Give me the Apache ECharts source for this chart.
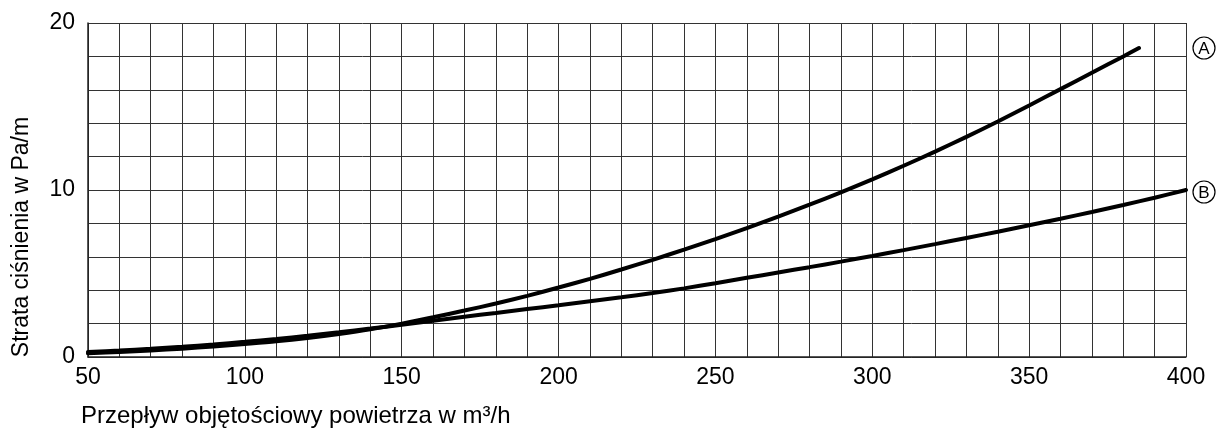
<!DOCTYPE html>
<html>
<head>
<meta charset="utf-8">
<script src="https://cdn.jsdelivr.net/npm/echarts@6/dist/echarts.min.js"></script>
<style>
html,body{margin:0;padding:0;background:#fff;}
#chart{width:1219px;height:430px;}
</style>
</head>
<body>
<div id="chart"></div>
<script>
const xAxisTitle = 'Przepływ objętościowy powietrza w m³/h';
const yAxisTitle = 'Strata ciśnienia w Pa/m';
const curveLabels = ['A', 'B'];

const flowA = [50, 60, 70, 80, 90, 100, 110, 120, 130, 140, 150, 160, 170, 180, 190, 200, 210, 220, 230, 240, 250, 260, 270, 280, 290, 300, 310, 320, 330, 340, 350, 360, 370, 380, 385];
const lossA = [0.22, 0.3, 0.39, 0.5, 0.63, 0.78, 0.94, 1.14, 1.38, 1.66, 2.0, 2.38, 2.78, 3.2, 3.66, 4.16, 4.68, 5.24, 5.82, 6.43, 7.06, 7.72, 8.41, 9.12, 9.86, 10.64, 11.45, 12.3, 13.18, 14.1, 15.06, 16.04, 17.02, 18.0, 18.5];

const flowB = [50, 60, 70, 80, 90, 100, 110, 120, 130, 140, 150, 160, 170, 180, 190, 200, 210, 220, 230, 240, 250, 260, 270, 280, 290, 300, 310, 320, 330, 340, 350, 360, 370, 380, 390, 400];
const lossB = [0.3, 0.39, 0.49, 0.61, 0.75, 0.91, 1.08, 1.27, 1.48, 1.7, 1.93, 2.17, 2.41, 2.64, 2.87, 3.1, 3.34, 3.58, 3.83, 4.11, 4.42, 4.74, 5.06, 5.38, 5.71, 6.05, 6.4, 6.76, 7.13, 7.5, 7.89, 8.28, 8.68, 9.1, 9.54, 10.0];

const pairs = (xs, ys) => xs.map((x, i) => [x, ys[i]]);

const chart = echarts.init(document.getElementById('chart'), null, {renderer: 'canvas'});
const font = '"Liberation Sans", Arial, sans-serif';
const gridColor = '#333';

chart.setOption({
  animation: false,
  backgroundColor: '#fff',
  grid: {left: 88, right: 33, top: 23, bottom: 73, containLabel: false},
  xAxis: {
    type: 'value', min: 50, max: 400, interval: 10,
    axisLine: {show: true, lineStyle: {color: '#222', width: 1.5}},
    axisTick: {show: false},
    splitLine: {show: true, lineStyle: {color: gridColor, width: 1}},
    axisLabel: {
      color: '#000', fontFamily: font, fontSize: 23, margin: 9,
      formatter: v => (v % 50 === 0 ? String(v) : '')
    }
  },
  yAxis: {
    type: 'value', min: 0, max: 20, interval: 2,
    axisLine: {show: true, lineStyle: {color: '#222', width: 1.5}},
    axisTick: {show: false},
    splitLine: {show: true, lineStyle: {color: gridColor, width: 1}},
    axisLabel: {
      color: '#000', fontFamily: font, fontSize: 23, margin: 13,
      formatter: v => (v % 10 === 0 ? String(v) : '')
    }
  },
  series: [
    {name: curveLabels[0], type: 'line', data: pairs(flowA, lossA), smooth: 0.3, showSymbol: false,
     lineStyle: {color: '#000', width: 4, cap: 'round'}},
    {name: curveLabels[1], type: 'line', data: pairs(flowB, lossB), smooth: 0.3, showSymbol: false,
     lineStyle: {color: '#000', width: 4, cap: 'round'}}
  ],
  graphic: [
    {type: 'text', x: 22, y: 237, rotation: Math.PI / 2,
     style: {text: yAxisTitle, fill: '#000', font: '23px ' + font, textAlign: 'center', textVerticalAlign: 'middle'}},
    {type: 'text', x: 81, y: 416,
     style: {text: xAxisTitle, fill: '#000', font: '24px ' + font, textAlign: 'left', textVerticalAlign: 'middle'}},
    {type: 'circle', shape: {cx: 1204, cy: 48, r: 11}, style: {fill: '#fff', stroke: '#000', lineWidth: 1.2}},
    {type: 'text', x: 1204, y: 49,
     style: {text: curveLabels[0], fill: '#000', font: '17px ' + font, textAlign: 'center', textVerticalAlign: 'middle'}},
    {type: 'circle', shape: {cx: 1204, cy: 192, r: 11}, style: {fill: '#fff', stroke: '#000', lineWidth: 1.2}},
    {type: 'text', x: 1204, y: 193,
     style: {text: curveLabels[1], fill: '#000', font: '17px ' + font, textAlign: 'center', textVerticalAlign: 'middle'}}
  ]
});
</script>
</body>
</html>
